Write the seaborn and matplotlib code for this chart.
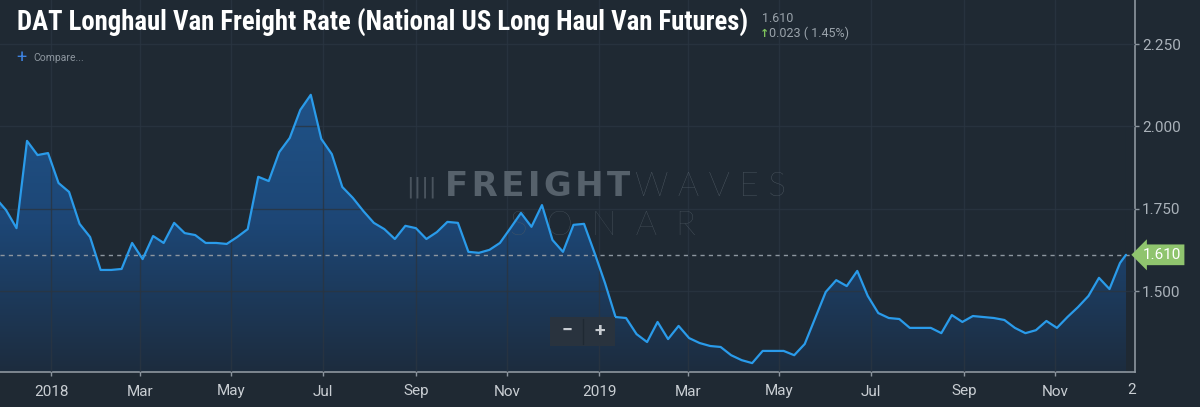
import seaborn as sns
import matplotlib.pyplot as plt
import matplotlib.dates as mdates
import numpy as np
import pandas as pd
from matplotlib import font_manager
from matplotlib.colors import LinearSegmentedColormap
from matplotlib.patches import Rectangle

# weekly DAT long haul van rate, $/mile
rates = [1.783, 1.746, 1.691, 1.956, 1.913, 1.919, 1.828, 1.801, 1.704, 1.664,
         1.564, 1.564, 1.567, 1.646, 1.597, 1.667, 1.646, 1.707, 1.676, 1.670,
         1.646, 1.646, 1.643, 1.664, 1.688, 1.847, 1.834, 1.922, 1.965, 2.050,
         2.096, 1.962, 1.916, 1.816, 1.783, 1.743, 1.707, 1.688, 1.658, 1.698,
         1.691, 1.658, 1.679, 1.710, 1.707, 1.619, 1.616, 1.625, 1.646, 1.691,
         1.737, 1.695, 1.761, 1.655, 1.619, 1.701, 1.704, 1.616, 1.524, 1.421,
         1.418, 1.369, 1.345, 1.406, 1.354, 1.394, 1.357, 1.342, 1.333, 1.330,
         1.305, 1.290, 1.281, 1.318, 1.318, 1.318, 1.305, 1.339, 1.418, 1.497,
         1.533, 1.515, 1.561, 1.485, 1.433, 1.418, 1.415, 1.388, 1.388, 1.388,
         1.372, 1.427, 1.406, 1.424, 1.421, 1.418, 1.412, 1.388, 1.372, 1.381,
         1.409, 1.388, 1.421, 1.451, 1.485, 1.540, 1.506, 1.585, 1.610]
weeks = list(pd.date_range("2017-11-25", periods=len(rates) - 1, freq="7D"))
dates = weeks + [pd.Timestamp("2019-12-18")]

yticks = [1.500, 1.750, 2.000, 2.250]
title = "DAT Longhaul Van Freight Rate (National US Long Haul Van Futures)"
last_value = "1.610"
change = "0.023 ( 1.45%)"

bg = "#1f2933"
text_gray = "#aab2ba"
line_blue = "#2a9bea"
mark_gray = "#56616b"

sns.set_style("dark")
plt.rcParams["font.family"] = ["Roboto", "DejaVu Sans"]

df = pd.DataFrame({"date": dates, "rate": rates})
xnum = mdates.date2num(df["date"])

fig = plt.figure(figsize=(12, 4.07), dpi=100, facecolor=bg)
ax = fig.add_axes([0, 35 / 407, 1135 / 1200, 372 / 407])
ax.set_facecolor(bg)

x0 = mdates.date2num(pd.Timestamp("2017-11-28"))
x1 = mdates.date2num(pd.Timestamp("2019-12-24"))
ymin, ymax = 1.254, 2.384

# gradient area: full gradient, then masked above the line with background
grad = np.linspace(0, 1, 256).reshape(-1, 1)
cmap = LinearSegmentedColormap.from_list("g", ["#1c2c3e", "#1d4675", "#20548a"])
ax.imshow(grad, extent=[x0, x1, ymin, 2.15], aspect="auto", cmap=cmap,
          origin="lower", zorder=1)
ax.fill_between(xnum, df["rate"], ymax + 0.1, facecolor=bg, edgecolor="none",
                lw=0, zorder=1.5)
ax.axvspan(xnum[-1], x1, facecolor=bg, edgecolor="none", lw=0, zorder=1.5)

sns.lineplot(data=df, x="date", y="rate", ax=ax, color=line_blue,
             linewidth=1.6, zorder=4)

# current value guide
cur = rates[-1]
ax.axhline(cur, color="#8d969f", lw=1, dashes=(3, 3), zorder=2.8)
ax.annotate(last_value, xy=(dates[-1], cur), xytext=(12, 0),
            textcoords="offset points", ha="left", va="center",
            color="white", fontsize=11, annotation_clip=False, zorder=5,
            bbox=dict(boxstyle="larrow,pad=0.22", fc="#8fc46e", ec="none"))

ax.set_xlim(x0, x1)
ax.set_ylim(ymin, ymax)
ax.set_xlabel("")
ax.set_ylabel("")

ax.xaxis.set_major_locator(mdates.MonthLocator(bymonth=[1, 3, 5, 7, 9, 11]))
ax.xaxis.set_major_formatter(plt.FuncFormatter(
    lambda v, p: mdates.num2date(v).strftime("%Y" if mdates.num2date(v).month == 1 else "%b")))
ax.yaxis.tick_right()
ax.set_yticks(yticks)
ax.set_yticklabels([f"{t:.3f}" for t in yticks])

ax.tick_params(axis="x", colors="#8d969f", labelcolor="#c9ced3", labelsize=11,
               length=3, width=1, pad=6, direction="out", bottom=True)
ax.tick_params(axis="y", colors="#8d969f", labelcolor=text_gray, labelsize=11,
               length=3, width=1, pad=2, direction="out", right=True, left=False)

ax.set_axisbelow(False)
ax.grid(True, color="#2a3541", lw=1, alpha=0.8)
for side in ["top", "left"]:
    ax.spines[side].set_visible(False)
for side in ["right", "bottom"]:
    ax.spines[side].set_visible(True)
    ax.spines[side].set_color("#8d969f")
    ax.spines[side].set_linewidth(1.2)

# clipped 2020 label at the right edge
fig.text(1132 / 1200, 1 - 390 / 407, "2", color="#c9ced3", fontsize=11,
         ha="center", va="center")

# watermark, under the line
ft = fig.transFigure
ax.text(437 / 1200, 1 - 187 / 407, "||||", color="#4a545e", fontsize=16,
        ha="right", va="center", family="DejaVu Sans", transform=ft, zorder=3)
ax.text(445 / 1200, 1 - 187 / 407, "\u200a".join("FREIGHT"), color=mark_gray,
        fontsize=24.5, fontweight="heavy", ha="left", va="center",
        family="DejaVu Sans", transform=ft, zorder=3)
ax.text(635 / 1200, 1 - 187 / 407, " ".join("WAVES"), color=mark_gray,
        fontsize=24, fontweight="light", ha="left", va="center",
        family=["Lato", "DejaVu Sans"], transform=ft, zorder=3)
ax.text(603 / 1200, 1 - 226 / 407, "  ".join("SONAR"), color="#4f5a64",
        fontsize=24, fontweight="light", ha="center", va="center",
        family=["Lato", "DejaVu Sans"], transform=ft, zorder=3)

# zoom buttons
fig.patches.append(Rectangle((550 / 1200, 1 - 346 / 407), 65 / 1200, 29 / 407,
                             transform=ft, fc="#29333e", ec="none"))
fig.lines.append(plt.Line2D([583 / 1200, 583 / 1200], [1 - 344 / 407, 1 - 319 / 407],
                            transform=ft, color="#1f2933", lw=1))
fig.text(567 / 1200, 1 - 331 / 407, "\u2212", color="#c7ccd1", fontsize=14,
         fontweight="bold", ha="center", va="center")
fig.text(600 / 1200, 1 - 331 / 407, "+", color="#c7ccd1", fontsize=14,
         fontweight="bold", ha="center", va="center")

# header: prefer a condensed bold face if one is installed
tfont, tstretch = "Roboto", "normal"
for name in ["Liberation Sans Narrow", "Roboto Condensed", "DejaVu Sans Condensed",
             "Open Sans Condensed", "Noto Sans Condensed"]:
    if any(f.name == name for f in font_manager.fontManager.ttflist):
        tfont = name
        break
else:
    for f in font_manager.fontManager.ttflist:
        if f.name in ("Noto Sans", "Open Sans", "Roboto") and f.stretch in (
                "condensed", "semi-condensed", 300, 400):
            tfont, tstretch = f.name, "condensed"
            break
t = fig.text(17 / 1200, 1 - 31 / 407, title, color="white", fontsize=19,
             fontweight="bold", fontstretch=tstretch, ha="left", va="baseline",
             family=[tfont, "DejaVu Sans"])
r = fig.canvas.get_renderer()
w = t.get_window_extent(r).width
t.set_fontsize(19 * 731 / w)
xe = t.get_window_extent(r).x1
fig.text((xe + 14) / 1200, 1 - 22 / 407, last_value, color="#9aa3ab",
         fontsize=9, ha="left", va="baseline")
fig.text((xe + 12) / 1200, 1 - 37 / 407, "\u2191", color="#7ec35c",
         fontsize=8, ha="left", va="baseline", family="DejaVu Sans", fontweight="bold")
fig.text((xe + 21) / 1200, 1 - 37 / 407, change, color="#9aa3ab",
         fontsize=9, ha="left", va="baseline")
fig.text(16 / 1200, 1 - 58 / 407, "+", color="#3d82e0", fontsize=13,
         ha="left", va="center")
fig.text(33 / 1200, 1 - 58 / 407, "Compare...", color="#8d969f", fontsize=7.5,
         ha="left", va="center")

fig.savefig("out.png", dpi=100, facecolor=bg)
